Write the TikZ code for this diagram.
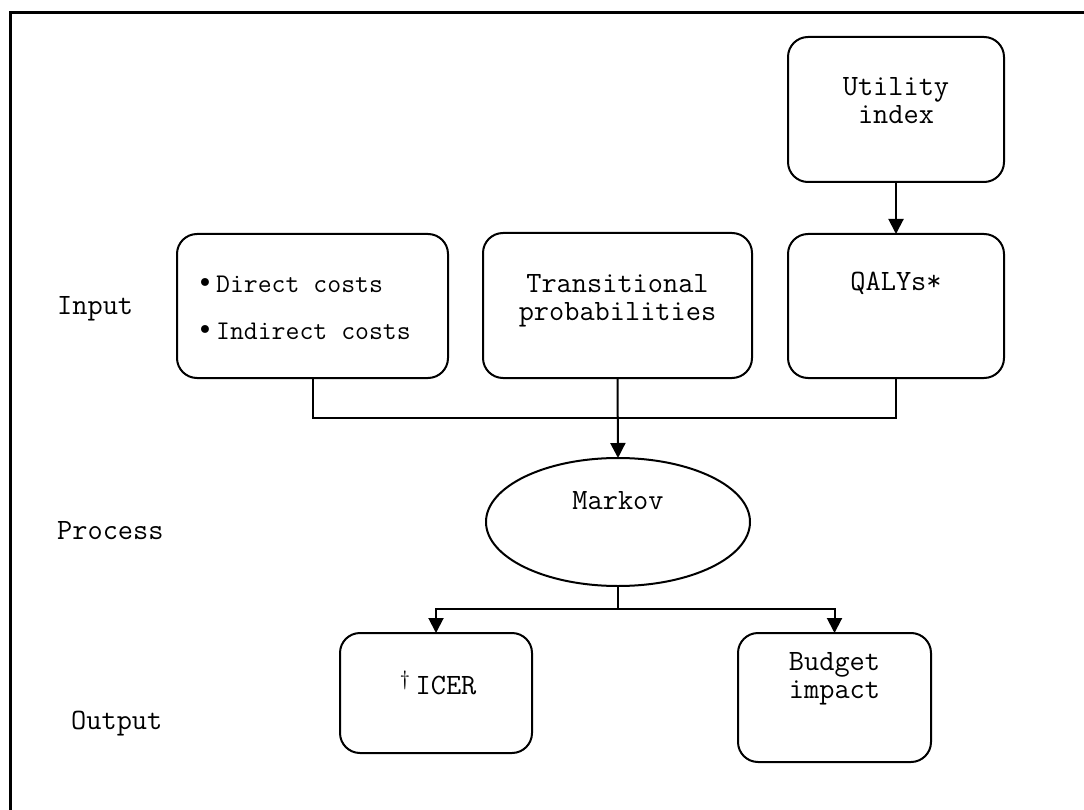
\documentclass[tikz,border=0pt]{standalone}
\usepackage{fontspec}
\newfontfamily\symfont{DejaVu Sans}
\usetikzlibrary{arrows.meta,shapes.geometric}
\begin{document}
\begin{tikzpicture}[x=1pt,y=-1pt,
  box/.style={draw,line width=2pt,rounded corners=20pt,inner sep=0pt,outer sep=0pt},
  txt/.style={font=\fontsize{29.5}{28}\selectfont\ttfamily,inner sep=0pt,align=center},
  smalltxt/.style={font=\fontsize{27}{26}\selectfont\ttfamily,inner sep=0pt,anchor=west},
  conn/.style={line width=2pt},
  arr/.style={conn,-{Triangle[length=15pt,width=15pt]}}]
\useasboundingbox (0,0) rectangle (1084,810);
\begin{scope}
\clip (0,0) rectangle (1084,810);
\draw[line width=3pt] (10,840) -- (10,13) -- (1110,13);
\end{scope}
% boxes
\node[box,minimum width=216pt,minimum height=145pt] (util) at (896,109.5) {};
\node[box,minimum width=216pt,minimum height=144pt] (qaly) at (896,306) {};
\node[box,minimum width=271pt,minimum height=144pt] (costs) at (312.5,306) {};
\node[box,minimum width=269pt,minimum height=145pt] (trans) at (617.5,305.5) {};
\node[draw,ellipse,line width=2pt,inner sep=0pt,outer sep=0pt,minimum width=264pt,minimum height=128pt] (markov) at (618,522) {};
\node[box,minimum width=192pt,minimum height=120pt] (icer) at (436,693) {};
\node[box,minimum width=193pt,minimum height=129pt] (budget) at (834.5,697.5) {};
% texts
\node[txt] (utilt) at (896,101) {Utility\\index};
\node[txt] (qalyt) at (896,283) {QALYs*};
\node[txt] (transt) at (617.5,300.5) {Transitional\\probabilities};
\node[smalltxt] (c1) at (197,284) {{\symfont\fontsize{27}{27}\selectfont •}\hspace{3pt}Direct costs};
\node[smalltxt] (c2) at (197,331) {{\symfont\fontsize{27}{27}\selectfont •}\hspace{3pt}Indirect costs};
\node[txt] (markovt) at (618,501) {Markov};
\node[txt] (icert) at (438,683) {\textsuperscript{†}\,ICER};
\node[txt] (budgett) at (834.5,679) {Budget\\impact};
\node[txt,anchor=west] (lin) at (57,309) {Input};
\node[txt,anchor=west] (lpr) at (57,531) {Process};
\node[txt,anchor=west] (lout) at (71,724) {Output};
% connectors
\draw[conn] (costs.south) -- ++(0,40) -| (qaly.south);
\draw[arr] (trans.south) -- (markov.north);
\draw[arr] (util.south) -- (qaly.north);
\draw[conn] (markov.south) -- ++(0,23) coordinate (j);
\draw[arr] (j) -| (icer.north);
\draw[arr] (j) -| (budget.north);
\end{tikzpicture}
\end{document}
